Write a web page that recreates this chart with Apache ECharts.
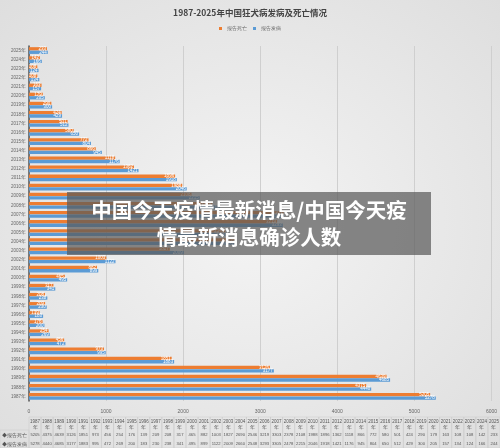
<!DOCTYPE html><html><head><meta charset="utf-8">
<script src="https://cdn.jsdelivr.net/npm/echarts@6/dist/echarts.min.js"></script>
<style>html,body{margin:0;padding:0}#c{width:500px;height:448px;background:radial-gradient(ellipse at center,#f4f4f4 0%,#dedede 100%)}
#ov{position:absolute;left:67px;top:192px;width:364px;height:63px;background:rgba(90,90,90,0.72);color:#fff;font:bold 20.5px "Noto Sans CJK SC";text-align:center;line-height:27px;padding-top:4px;box-sizing:border-box}</style>
</head><body><div id="c"></div><div id="ov">中国今天疫情最新消息/中国今天疫<br>情最新消息确诊人数</div>
<script>
const years=[1987,1988,1989,1990,1991,1992,1993,1994,1995,1996,1997,1998,1999,2000,2001,2002,2003,2004,2005,2006,2007,2008,2009,2010,2011,2012,2013,2014,2015,2016,2017,2018,2019,2020,2021,2022,2023,2024,2025];
const deaths=[5205,4375,4639,3126,1851,973,456,254,176,139,209,208,317,465,882,1003,1827,2690,2546,3219,3303,2378,2108,1988,1896,1362,1118,866,772,580,501,424,290,179,163,108,108,142,233];
const cases=[5278,4440,4685,3177,1883,995,472,269,200,183,230,238,341,495,899,1122,2009,2660,2548,3293,3305,2478,2215,2046,1918,1421,1176,945,804,650,512,429,300,205,157,134,124,166,244];
const xTicks=[0,1000,2000,3000,4000,5000,6000];
const cats=years.map(y=>y+'年');
const chart=echarts.init(document.getElementById('c'));
const L=29,R=7;
const colW=(500-L)/years.length;
const g=[];
years.forEach((y,i)=>{
  const x=L+i*colW;
  g.push({type:'rect',shape:{x:x,y:417,width:colW,height:31},style:{fill:'none',stroke:'#c8c8c8',lineWidth:0.5}});
  g.push({type:'text',style:{text:String(y),x:x+colW/2,y:419,fontSize:4.5,fill:'#555',align:'center'}});
  g.push({type:'text',style:{text:'年',x:x+colW/2,y:425,fontSize:4.5,fill:'#555',align:'center'}});
  g.push({type:'text',style:{text:String(deaths[i]),x:x+colW/2,y:433,fontSize:4.2,fill:'#555',align:'center'}});
  g.push({type:'text',style:{text:String(cases[i]),x:x+colW/2,y:442,fontSize:4.2,fill:'#555',align:'center'}});
});
g.push({type:'rect',shape:{x:0,y:430,width:L,height:18},style:{fill:'none',stroke:'#c8c8c8',lineWidth:0.5}});
g.push({type:'text',style:{text:'◆报告死亡',x:2,y:433,fontSize:4.5,fill:'#555'}});
g.push({type:'text',style:{text:'◆报告发病',x:2,y:442,fontSize:4.5,fill:'#555'}});
const lab={show:true,position:'insideRight',fontSize:4.5,color:'#fff',distance:1};
chart.setOption({
  title:{text:'1987-2025年中国狂犬病发病及死亡情况',left:'center',top:4,textStyle:{fontSize:8.5,color:'#444',fontFamily:'Noto Sans CJK SC',fontWeight:'bold'}},
  legend:{top:21,itemWidth:3,itemHeight:3,textStyle:{fontSize:4.5,color:'#666'},icon:'rect',itemGap:6},
  grid:{left:L,right:R,top:46,bottom:47},
  xAxis:{type:'value',min:0,max:6000,interval:1000,axisLabel:{fontSize:5,color:'#666',formatter:v=>String(v)},splitLine:{lineStyle:{color:'#cfcfcf'}}},
  yAxis:{type:'category',data:cats,axisLabel:{fontSize:4.5,color:'#666',interval:0,margin:3},axisTick:{show:false},axisLine:{lineStyle:{color:'#555',width:1.5}}},
  series:[
    {name:'报告死亡',type:'bar',data:deaths,itemStyle:{color:'#ed7d31'},barWidth:3.3,barGap:'5%',label:lab},
    {name:'报告发病',type:'bar',data:cases,itemStyle:{color:'#5b9bd5'},barWidth:3.3,label:lab}
  ],
  graphic:g
});
</script></body></html>
